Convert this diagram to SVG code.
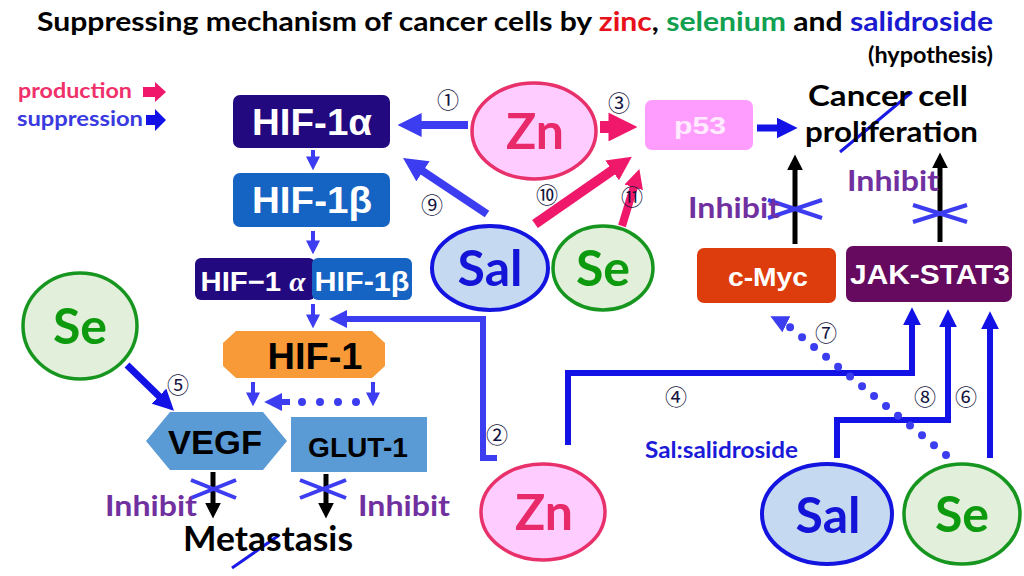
<svg xmlns="http://www.w3.org/2000/svg" width="1024" height="576" viewBox="0 0 1024 576">
<style>
.t{font-family:Lato,"Open Sans","Liberation Sans",sans-serif;font-weight:bold}
.a{font-family:"Liberation Sans",Arial,sans-serif;font-weight:bold;text-anchor:middle}
.n{font-family:"Noto Sans CJK JP","DejaVu Sans",sans-serif;font-size:22px;fill:#141440;text-anchor:middle}
.inh{fill:#7030a0;font-size:29px}
.b{stroke:#3c3cf0;fill:none}
.bd{stroke:#1212e6;fill:none}
.p{stroke:#f0186a;fill:none}
.k{stroke:#000;fill:none}
.x{stroke:#3c3cf0;stroke-width:4}
.sl{stroke:#1a1ae6;stroke-width:3}
.zn{fill:#ffccff;stroke:#e8306a;stroke-width:3.5}
.sal{fill:#c5d9f1;stroke:#1414e0;stroke-width:4}
.se{fill:#e2efda;stroke:#16961e;stroke-width:3.5}
.znt{fill:#e82a6a;font-size:50px;text-anchor:middle}
.salt{fill:#1414d8;font-size:50px;text-anchor:middle}
.set{fill:#0e9a0e;font-size:50px;text-anchor:middle}
</style>
<defs>
<marker id="ah" viewBox="0 0 10 10" refX="4" refY="5" markerWidth="3" markerHeight="3" orient="auto"><path d="M0,0 L10,5 L0,10 z" fill="#3c3cf0"/></marker>
<marker id="ahs" viewBox="0 0 10 10" refX="4" refY="5" markerWidth="3.5" markerHeight="3.5" orient="auto"><path d="M0,0 L10,5 L0,10 z" fill="#3c3cf0"/></marker>
<marker id="ahd" viewBox="0 0 10 10" refX="4" refY="5" markerWidth="3" markerHeight="3" orient="auto"><path d="M0,0 L10,5 L0,10 z" fill="#1212e6"/></marker>
<marker id="ahp" viewBox="0 0 10 10" refX="4" refY="5" markerWidth="2.4" markerHeight="2.4" orient="auto"><path d="M0,0 L10,5 L0,10 z" fill="#f0186a"/></marker>
<marker id="ahk" viewBox="0 0 10 10" refX="4" refY="5" markerWidth="3.2" markerHeight="3.2" orient="auto"><path d="M0,0 L10,5 L0,10 z" fill="#000"/></marker>
</defs>
<rect width="1024" height="576" fill="#fff"/>

<g id="title">
<text class="t" x="37" y="31" font-size="27" textLength="956" lengthAdjust="spacingAndGlyphs">Suppressing mechanism of cancer cells by <tspan fill="#e8101a">zinc</tspan>, <tspan fill="#10a050">selenium</tspan> and <tspan fill="#1a1ad0">salidroside</tspan></text>
<text class="t" x="993" y="63" font-size="23" text-anchor="end" textLength="125" lengthAdjust="spacingAndGlyphs">(hypothesis)</text>
</g>

<g id="legend">
<text class="t" x="18" y="98" font-size="21" fill="#f0306a" textLength="114" lengthAdjust="spacingAndGlyphs">production</text>
<polygon points="143,87 155,87 155,82 166,92 155,102 155,97 143,97" fill="#f0186a"/>
<text class="t" x="17" y="126" font-size="21" fill="#3a3ae0" textLength="126" lengthAdjust="spacingAndGlyphs">suppression</text>
<polygon points="146,115 155,115 155,109 166,120 155,131 155,125 146,125" fill="#1212e6"/>
</g>

<g id="connectors">
<line class="b" x1="468" y1="125" x2="412" y2="125" stroke-width="8" marker-end="url(#ah)"/>
<line class="b" x1="487" y1="214" x2="415" y2="166" stroke-width="8" marker-end="url(#ah)"/>
<line class="p" x1="600" y1="127" x2="620" y2="127" stroke-width="12" marker-end="url(#ahp)"/>
<line class="p" x1="535" y1="224" x2="620" y2="165" stroke-width="10" marker-end="url(#ahp)"/>
<line class="p" x1="622" y1="226" x2="636" y2="180" stroke-width="8" marker-end="url(#ahp)"/>
<line class="bd" x1="757" y1="128" x2="785" y2="128" stroke-width="7" marker-end="url(#ahd)"/>
<line class="k" x1="795" y1="244" x2="795" y2="164" stroke-width="5" marker-end="url(#ahk)"/>
<line class="k" x1="940" y1="242" x2="940" y2="162" stroke-width="5" marker-end="url(#ahk)"/>
<line class="b" x1="313" y1="150" x2="313" y2="162" stroke-width="4" marker-end="url(#ahs)"/>
<line class="b" x1="313" y1="231" x2="313" y2="246" stroke-width="4" marker-end="url(#ahs)"/>
<line class="b" x1="313" y1="304" x2="313" y2="320" stroke-width="4" marker-end="url(#ahs)"/>
<line class="b" x1="253" y1="382" x2="253" y2="398" stroke-width="4" marker-end="url(#ahs)"/>
<line class="b" x1="373" y1="382" x2="373" y2="398" stroke-width="4" marker-end="url(#ahs)"/>
<line class="b" x1="290" y1="402" x2="275" y2="402" stroke-width="6" marker-end="url(#ah)"/>
<line class="b" x1="302" y1="402" x2="360" y2="402" stroke-width="8" stroke-linecap="round" stroke-dasharray="0 18"/>
<polyline class="b" points="497,458 483,458 483,319 340,319" stroke-width="6" marker-end="url(#ah)"/>
<line class="bd" x1="127" y1="365" x2="165" y2="402" stroke-width="7" marker-end="url(#ahd)"/>
<polyline class="bd" points="568,445 568,373 912,373 912,318" stroke-width="6" marker-end="url(#ahd)"/>
<polyline class="bd" points="837,458 837,420 948,420 948,320" stroke-width="6" marker-end="url(#ahd)"/>
<line class="bd" x1="990" y1="458" x2="990" y2="322" stroke-width="6" marker-end="url(#ahd)"/>
<line class="b" x1="946" y1="455" x2="786" y2="324" stroke-width="8" stroke-linecap="round" stroke-dasharray="0 15.5"/>
<line class="b" x1="782" y1="322" x2="780" y2="321" stroke-width="6" marker-end="url(#ah)"/>
<line class="k" x1="213" y1="472" x2="213" y2="509" stroke-width="5" marker-end="url(#ahk)"/>
<line class="k" x1="326" y1="474" x2="326" y2="509" stroke-width="5" marker-end="url(#ahk)"/>
</g>

<g id="marks">
<line class="x" x1="768" y1="200" x2="822" y2="218"/><line class="x" x1="768" y1="218" x2="822" y2="200"/>
<line class="x" x1="913" y1="205" x2="967" y2="222"/><line class="x" x1="913" y1="222" x2="967" y2="205"/>
<line class="x" x1="191" y1="480" x2="236" y2="498"/><line class="x" x1="191" y1="498" x2="236" y2="480"/>
<line class="x" x1="300" y1="480" x2="346" y2="498"/><line class="x" x1="300" y1="498" x2="346" y2="480"/>
<line class="sl" x1="840" y1="152" x2="912" y2="92"/>
<line class="sl" x1="232" y1="568" x2="278" y2="536"/>
</g>

<g id="labels">
<text class="n" x="448" y="108">①</text>
<text class="n" x="619" y="111">③</text>
<text class="n" x="432" y="213">⑨</text>
<text class="n" x="547" y="203">⑩</text>
<text class="n" x="632" y="205">⑪</text>
<text class="n" x="497" y="443">②</text>
<text class="n" x="178" y="393">⑤</text>
<text class="n" x="676" y="405">④</text>
<text class="n" x="826" y="341">⑦</text>
<text class="n" x="925" y="405">⑧</text>
<text class="n" x="966" y="405">⑥</text>
<text class="t inh" x="688" y="218" textLength="92" lengthAdjust="spacingAndGlyphs">Inhibit</text>
<text class="t inh" x="847" y="191" textLength="92" lengthAdjust="spacingAndGlyphs">Inhibit</text>
<text class="t inh" x="105" y="516" textLength="92" lengthAdjust="spacingAndGlyphs">Inhibit</text>
<text class="t inh" x="358" y="516" textLength="92" lengthAdjust="spacingAndGlyphs">Inhibit</text>
<text class="t" x="645" y="458" font-size="22" fill="#1a1ad8" textLength="153" lengthAdjust="spacingAndGlyphs">Sal:salidroside</text>
</g>

<g id="hif1a"><rect x="233" y="95" width="157" height="53" rx="7" fill="#22097f"/><text class="a" x="312" y="135" font-size="37" fill="#fff" textLength="120" lengthAdjust="spacingAndGlyphs">HIF-1α</text></g>
<g id="hif1b"><rect x="233" y="173" width="157" height="54" rx="7" fill="#1563c2"/><text class="a" x="312" y="213" font-size="37" fill="#fff" textLength="120" lengthAdjust="spacingAndGlyphs">HIF-1β</text></g>
<g id="hifcombo">
<rect x="195" y="258" width="120" height="42" rx="6" fill="#22097f"/>
<rect x="312" y="258" width="100" height="42" rx="6" fill="#1563c2"/>
<text class="a" x="253" y="291" font-size="27" fill="#fff" textLength="105" lengthAdjust="spacingAndGlyphs">HIF−1 <tspan font-style="italic" font-family="'Liberation Serif',serif">α</tspan></text>
<text class="a" x="362" y="291" font-size="27" fill="#fff" textLength="95" lengthAdjust="spacingAndGlyphs">HIF-1β</text>
</g>
<g id="hif1"><polygon points="236,331 372,331 385,343 385,366 372,378 236,378 223,366 223,343" fill="#f99a38"/><text class="a" x="315" y="369" font-size="37" fill="#000" textLength="95" lengthAdjust="spacingAndGlyphs">HIF-1</text></g>
<g id="vegf"><polygon points="146,441 170,412 263,412 287,441 263,470 170,470" fill="#5b9bd5"/><text class="a" x="215" y="454" font-size="34" fill="#000" textLength="94" lengthAdjust="spacingAndGlyphs">VEGF</text></g>
<g id="glut1"><rect x="291" y="417" width="136" height="55" fill="#5b9bd5"/><text class="a" x="358" y="457" font-size="28" fill="#000" textLength="100" lengthAdjust="spacingAndGlyphs">GLUT-1</text></g>
<g id="p53"><rect x="645" y="100" width="108" height="50" rx="7" fill="#ff9dff"/><text class="a" x="700" y="134" font-size="23" fill="#ffeaff" textLength="52" lengthAdjust="spacingAndGlyphs">p53</text></g>
<g id="cmyc"><rect x="697" y="248" width="139" height="55" rx="7" fill="#dd3c0c"/><text class="a" x="768" y="286" font-size="25" fill="#fff" textLength="80" lengthAdjust="spacingAndGlyphs">c-Myc</text></g>
<g id="jakstat3"><rect x="846" y="246" width="166" height="56" rx="7" fill="#650a5f"/><text class="a" x="930" y="284" font-size="28" fill="#fff" textLength="160" lengthAdjust="spacingAndGlyphs">JAK-STAT3</text></g>
<g id="cancer"><text class="t" x="808" y="106" font-size="29" textLength="160" lengthAdjust="spacingAndGlyphs">Cancer cell</text><text class="t" x="805" y="142" font-size="29" textLength="173" lengthAdjust="spacingAndGlyphs">proliferation</text></g>
<g id="metastasis"><text class="t" x="183" y="551" font-size="34" textLength="170" lengthAdjust="spacingAndGlyphs">Metastasis</text></g>

<g id="zn-top"><ellipse cx="534" cy="131" rx="62" ry="48" class="zn"/><text class="t znt" x="535" y="149">Zn</text></g>
<g id="sal-top"><ellipse cx="490" cy="268" rx="58" ry="42" class="sal"/><text class="t salt" x="490" y="286">Sal</text></g>
<g id="se-top"><ellipse cx="603" cy="268" rx="50" ry="42" class="se"/><text class="t set" x="603" y="286">Se</text></g>
<g id="se-left"><ellipse cx="80" cy="326" rx="57" ry="53" class="se"/><text class="t set" x="80" y="344">Se</text></g>
<g id="zn-bottom"><ellipse cx="543" cy="512" rx="62" ry="48" class="zn"/><text class="t znt" x="544" y="530">Zn</text></g>
<g id="sal-bottom"><ellipse cx="827" cy="514" rx="65" ry="50" class="sal"/><text class="t salt" x="828" y="533">Sal</text></g>
<g id="se-bottom"><ellipse cx="962" cy="514" rx="58" ry="50" class="se"/><text class="t set" x="962" y="532">Se</text></g>
</svg>
